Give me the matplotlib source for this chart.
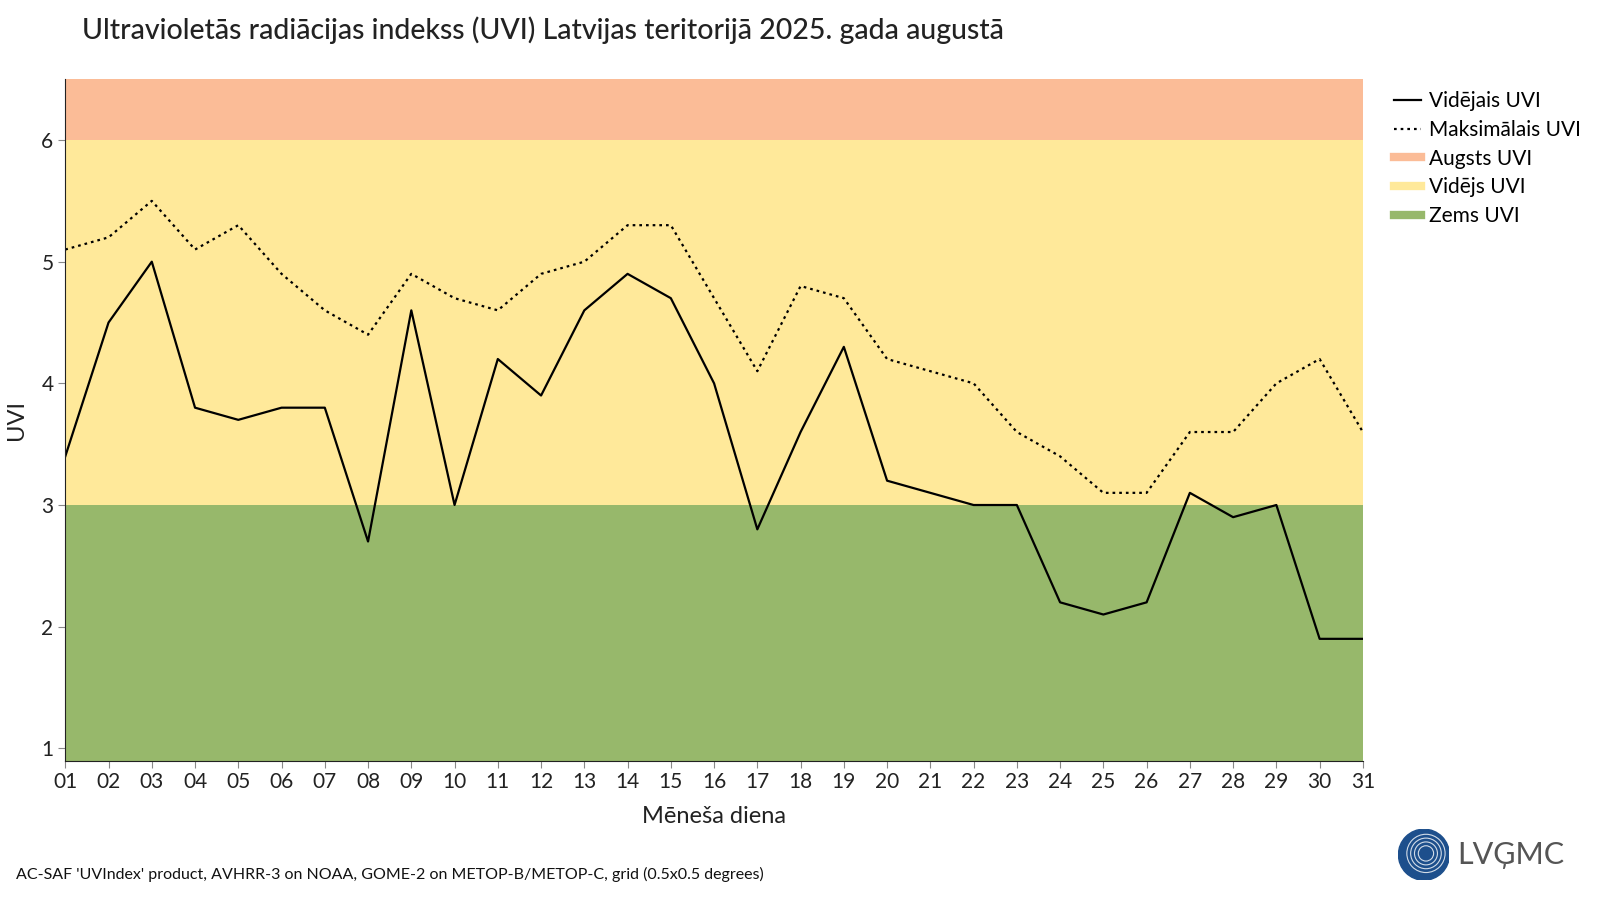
import matplotlib
matplotlib.use('Agg')
import matplotlib.pyplot as plt
from matplotlib.lines import Line2D
from matplotlib.patches import Circle

plt.rcParams['font.family'] = ['Lato', 'DejaVu Sans']

days = list(range(1, 32))
day_labels = [f'{d:02d}' for d in days]
uvi_mean = [3.4, 4.5, 5.0, 3.8, 3.7, 3.8, 3.8, 2.7, 4.6, 3.0, 4.2, 3.9, 4.6, 4.9, 4.7, 4.0,
            2.8, 3.6, 4.3, 3.2, 3.1, 3.0, 3.0, 2.2, 2.1, 2.2, 3.1, 2.9, 3.0, 1.9, 1.9]
uvi_max = [5.1, 5.2, 5.5, 5.1, 5.3, 4.9, 4.6, 4.4, 4.9, 4.7, 4.6, 4.9, 5.0, 5.3, 5.3, 4.7,
           4.1, 4.8, 4.7, 4.2, 4.1, 4.0, 3.6, 3.4, 3.1, 3.1, 3.6, 3.6, 4.0, 4.2, 3.6]
y_ticks = [1, 2, 3, 4, 5, 6]

col_high = '#fbbc97'
col_mid = '#ffe99a'
col_low = '#97b86b'
dotted = (0, (1.2, 1.8))

fig = plt.figure(figsize=(16, 9), dpi=100)
ax = fig.add_axes([0.0408, 0.155, 0.811, 0.757])

ax.axhspan(0.9, 3, color=col_low, lw=0)
ax.axhspan(3, 6, color=col_mid, lw=0)
ax.axhspan(6, 6.5, color=col_high, lw=0)

ax.plot(days, uvi_mean, color='black', lw=1.6)
ax.plot(days, uvi_max, color='black', lw=1.6, linestyle=dotted)

ax.set_xlim(1, 31)
ax.set_ylim(0.9, 6.5)
ax.set_xticks(days)
ax.set_xticklabels(day_labels)
ax.set_yticks(y_ticks)
ax.tick_params(labelsize=15, labelcolor='#222222', color='#888888', length=5)
for s in ['top', 'right']:
    ax.spines[s].set_visible(False)
ax.spines['left'].set_color('#222222')
ax.spines['bottom'].set_color('#222222')
ax.set_ylabel('UVI', fontsize=17, color='#222222', labelpad=10)
ax.set_xlabel('Mēneša diena', fontsize=17, color='#222222', labelpad=10)

fig.text(0.051, 0.966, 'Ultravioletās radiācijas indekss (UVI) Latvijas teritorijā 2025. gada augustā',
         fontsize=20.5, color='#222222', va='center', weight='medium')

handles = [
    Line2D([], [], color='black', lw=1.6),
    Line2D([], [], color='black', lw=1.6, linestyle=dotted),
    Line2D([], [], color=col_high, lw=6),
    Line2D([], [], color=col_mid, lw=6),
    Line2D([], [], color=col_low, lw=6),
]
labels = ['Vidējais UVI', 'Maksimālais UVI', 'Augsts UVI', 'Vidējs UVI', 'Zems UVI']
fig.legend(handles, labels, loc='upper left', bbox_to_anchor=(0.866, 0.908), frameon=False,
           fontsize=15, handlelength=1.3, labelspacing=0.42, handletextpad=0.4, borderaxespad=0)

fig.text(0.01, 0.028, "AC-SAF 'UVIndex' product, AVHRR-3 on NOAA, GOME-2 on METOP-B/METOP-C, grid (0.5x0.5 degrees)",
         fontsize=11.5, color='#111111', va='center')

# logo
lax = fig.add_axes([0.874, 0.022, 0.0319, 0.0567])
lax.set_xlim(-1, 1)
lax.set_ylim(-1, 1)
lax.set_aspect('equal')
lax.axis('off')
lax.add_patch(Circle((0, 0), 1, color='#1d4f8c'))
for r in [0.3, 0.45, 0.6, 0.75]:
    lax.add_patch(Circle((0.08, 0.05), r, fill=False, ec='white', lw=0.8, alpha=0.8))
fig.text(0.911, 0.05, 'LVĢMC', fontsize=22, color='#555555', va='center')

fig.savefig('out.png', dpi=100)
